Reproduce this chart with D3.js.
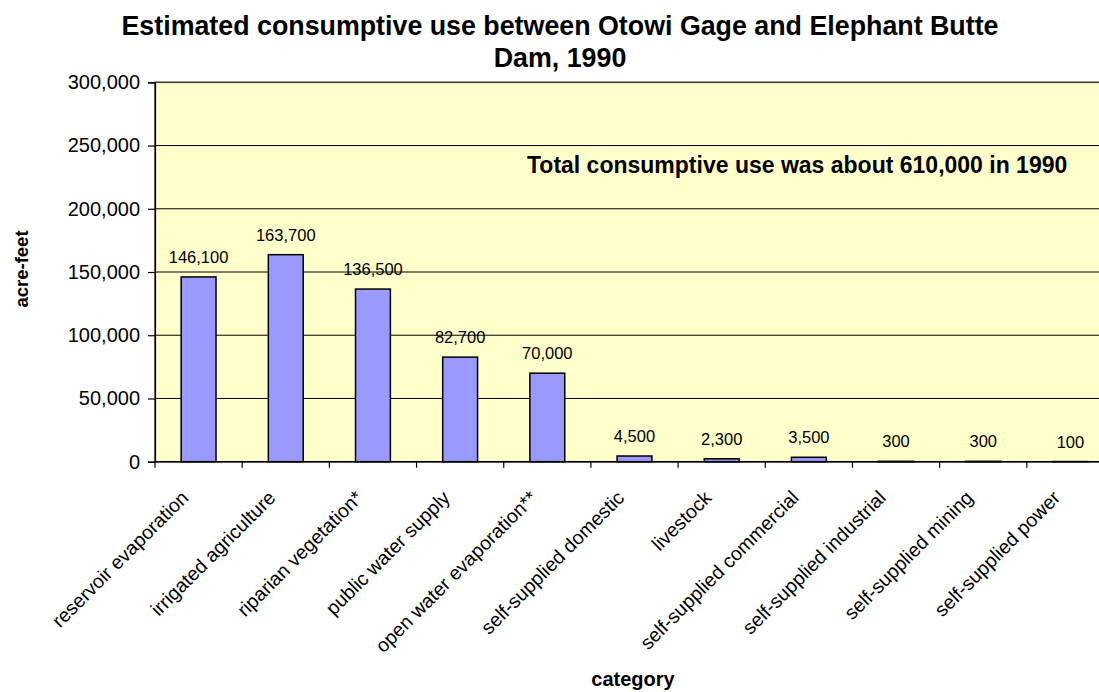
<!DOCTYPE html>
<html>
<head>
<meta charset="utf-8">
<script src="https://cdn.jsdelivr.net/npm/d3@7"></script>
<style>
  html, body { margin: 0; padding: 0; background: #fff; }
  text { font-family: "Liberation Sans", Arial, sans-serif; }
</style>
</head>
<body>
<svg id="chart" width="1099" height="692"></svg>
<script>
const categories = [
  "reservoir evaporation", "irrigated agriculture", "riparian vegetation*",
  "public water supply", "open water evaporation**", "self-supplied domestic",
  "livestock", "self-supplied commercial", "self-supplied industrial",
  "self-supplied mining", "self-supplied power"
];
const values = [146100, 163700, 136500, 82700, 70000, 4500, 2300, 3500, 300, 300, 100];
const yTicks = [0, 50000, 100000, 150000, 200000, 250000, 300000];
const titleLines = ["Estimated consumptive use between Otowi Gage and Elephant Butte", "Dam, 1990"];
const note = "Total consumptive use was about 610,000 in 1990";

(function () {
const svg = d3.select("#chart");
const pLeft = 155, pTop = 82.3, pBottom = 461.7, pRight = 1114;

const x = d3.scaleBand().domain(categories).range([pLeft, pRight]).paddingInner(0.6).paddingOuter(0.3);
const y = d3.scaleLinear().domain([0, 300000]).range([pBottom, pTop]);
const fmt = d3.format(",");

svg.append("rect").attr("x", pLeft).attr("y", pTop).attr("width", pRight - pLeft).attr("height", pBottom - pTop)
  .attr("fill", "#FFFFCC");

svg.append("g").selectAll("line").data(yTicks.filter(d => d > 0 && d < 300000)).join("line")
  .attr("x1", pLeft).attr("x2", pRight).attr("y1", d => y(d)).attr("y2", d => y(d))
  .attr("stroke", "#000").attr("stroke-width", 1);

svg.append("rect").attr("x", pLeft).attr("y", pTop).attr("width", pRight - pLeft).attr("height", pBottom - pTop)
  .attr("fill", "none").attr("stroke", "#333").attr("stroke-width", 1.5);

svg.append("g").selectAll("rect").data(values).join("rect")
  .attr("x", (d, i) => x(categories[i]))
  .attr("y", d => y(d))
  .attr("width", x.bandwidth())
  .attr("height", d => pBottom - y(d))
  .attr("fill", "#9999FF").attr("stroke", "#000").attr("stroke-width", 1.5);

svg.append("g").selectAll("text").data(values).join("text")
  .attr("x", (d, i) => x(categories[i]) + x.bandwidth() / 2)
  .attr("y", d => y(d) - 14)
  .attr("text-anchor", "middle").attr("font-size", "16.5px").attr("fill", "#000")
  .text(d => fmt(d));

const yAxis = d3.axisLeft(y).tickValues(yTicks).tickFormat(fmt).tickSize(7).tickPadding(8);
const gy = svg.append("g").attr("transform", `translate(${pLeft},0)`).call(yAxis);
gy.select(".domain").attr("stroke", "#000").attr("stroke-width", 1.2);
gy.selectAll(".tick line").attr("stroke", "#000").attr("stroke-width", 1.2);
gy.selectAll(".tick text").attr("font-size", "20px").attr("font-family", "Liberation Sans, Arial, sans-serif").attr("fill", "#000");

const step = x.step();
const boundaries = d3.range(categories.length + 1).map(i => pLeft + i * step);
svg.append("line").attr("x1", pLeft).attr("x2", pRight).attr("y1", pBottom).attr("y2", pBottom)
  .attr("stroke", "#000").attr("stroke-width", 1.5);
svg.append("g").selectAll("line").data(boundaries).join("line")
  .attr("x1", d => d).attr("x2", d => d).attr("y1", pBottom).attr("y2", pBottom + 6)
  .attr("stroke", "#000").attr("stroke-width", 1.2);

svg.append("g").selectAll("text").data(categories).join("text")
  .attr("transform", d => `translate(${x(d) + x.bandwidth() / 2 - 9},${499}) rotate(-45)`)
  .attr("text-anchor", "end").attr("font-size", "19.5px").attr("fill", "#000")
  .text(d => d);

svg.append("g").selectAll("text").data(titleLines).join("text")
  .attr("x", 560).attr("y", (d, i) => 35 + i * 32)
  .attr("text-anchor", "middle").attr("font-size", "26.8px").attr("font-weight", "bold")
  .text(d => d);

svg.append("text").attr("x", 527).attr("y", 173).attr("font-size", "23px").attr("font-weight", "bold")
  .text(note);

svg.append("text").attr("transform", "translate(28,269) rotate(-90)").attr("text-anchor", "middle")
  .attr("font-size", "18.5px").attr("font-weight", "bold").text("acre-feet");
svg.append("text").attr("x", 633).attr("y", 686).attr("text-anchor", "middle")
  .attr("font-size", "20px").attr("font-weight", "bold").text("category");
})();
</script>
</body>
</html>
